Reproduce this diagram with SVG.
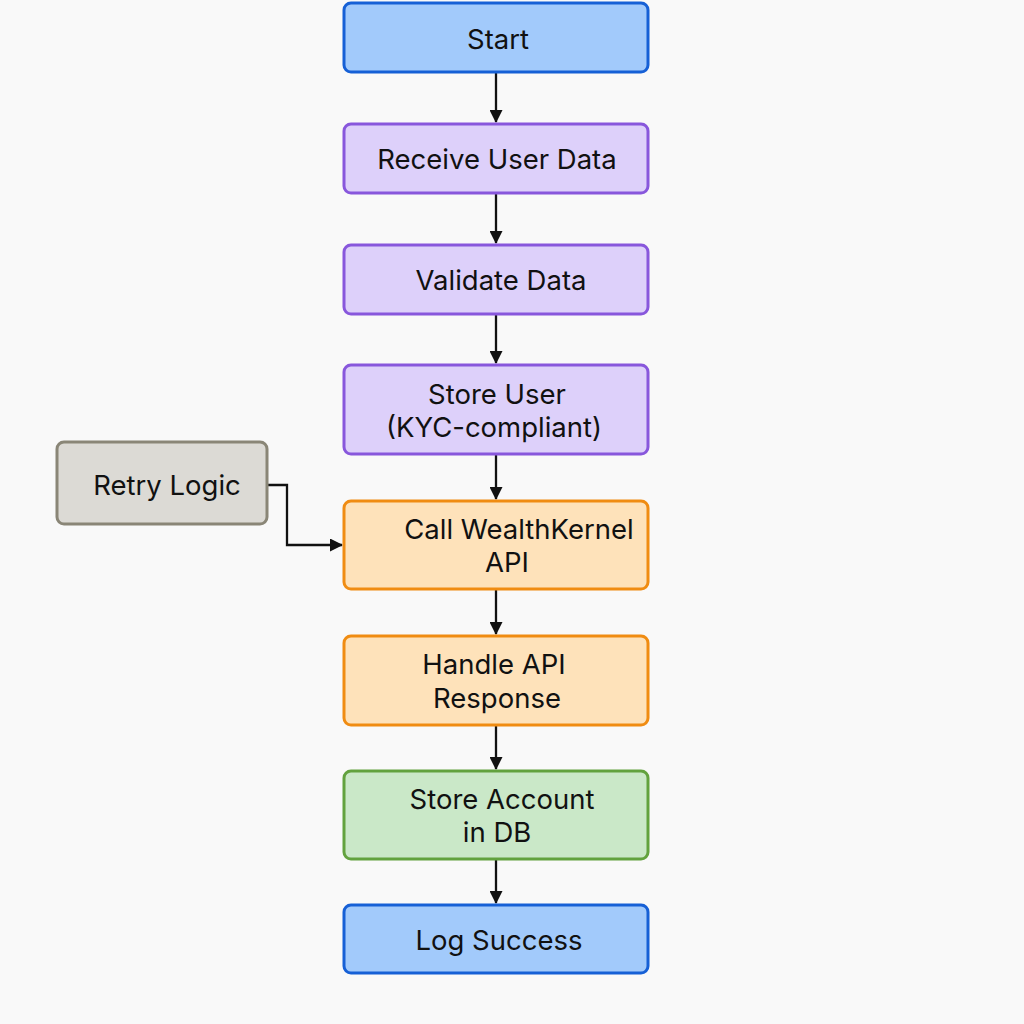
<svg xmlns="http://www.w3.org/2000/svg" width="1024" height="1024" viewBox="0 0 1024 1024">
<style>
.n rect{stroke-width:3}
.blue rect{fill:#a2cafb;stroke:#1660d6}
.purple rect{fill:#ddd0fa;stroke:#8857dc}
.orange rect{fill:#fee2ba;stroke:#f08c12}
.green rect{fill:#cae8c8;stroke:#62a23e}
.grey rect{fill:#dcdad5;stroke:#8a8677}
text{font-family:Inter,"Noto Sans","Liberation Sans",sans-serif;font-size:27.5px;fill:#111;text-anchor:middle}
.c path{fill:none;stroke:#111;stroke-width:2.3}
</style>
<defs>
<marker id="ah" markerWidth="13" markerHeight="13" refX="12" refY="6.5" orient="auto" markerUnits="userSpaceOnUse">
<path d="M0,0 L13,6.5 L0,13 Z" fill="#111"/>
</marker>
</defs>
<rect width="1024" height="1024" fill="#f9f9f9"/>
<g class="c">
<path d="M496,73 V122" marker-end="url(#ah)"/>
<path d="M496,194 V243" marker-end="url(#ah)"/>
<path d="M496,315 V363" marker-end="url(#ah)"/>
<path d="M496,455 V499" marker-end="url(#ah)"/>
<path d="M496,590 V634" marker-end="url(#ah)"/>
<path d="M496,726 V769" marker-end="url(#ah)"/>
<path d="M496,860 V903" marker-end="url(#ah)"/>
<path d="M268,485 H287 V545 H342" marker-end="url(#ah)"/>
</g>
<g id="start" class="n blue"><rect x="344" y="3" width="304" height="69" rx="7"/><text x="498" y="49">Start</text></g>
<g id="receive" class="n purple"><rect x="344" y="124" width="304" height="69" rx="7"/><text x="497" y="169">Receive User Data</text></g>
<g id="validate" class="n purple"><rect x="344" y="245" width="304" height="69" rx="7"/><text x="501" y="290">Validate Data</text></g>
<g id="storeuser" class="n purple"><rect x="344" y="365" width="304" height="89" rx="7"/><text x="497" y="404">Store User</text><text x="494" y="437">(KYC-compliant)</text></g>
<g id="retry" class="n grey"><rect x="57" y="442" width="210" height="82" rx="7"/><text x="167" y="495">Retry Logic</text></g>
<g id="call" class="n orange"><rect x="344" y="501" width="304" height="88" rx="7"/><text x="519" y="539">Call WealthKernel</text><text x="507" y="572">API</text></g>
<g id="handle" class="n orange"><rect x="344" y="636" width="304" height="89" rx="7"/><text x="494" y="674">Handle API</text><text x="497" y="708">Response</text></g>
<g id="storeacct" class="n green"><rect x="344" y="771" width="304" height="88" rx="7"/><text x="502" y="809">Store Account</text><text x="497" y="842">in DB</text></g>
<g id="log" class="n blue"><rect x="344" y="905" width="304" height="68" rx="7"/><text x="499" y="950">Log Success</text></g>
</svg>
